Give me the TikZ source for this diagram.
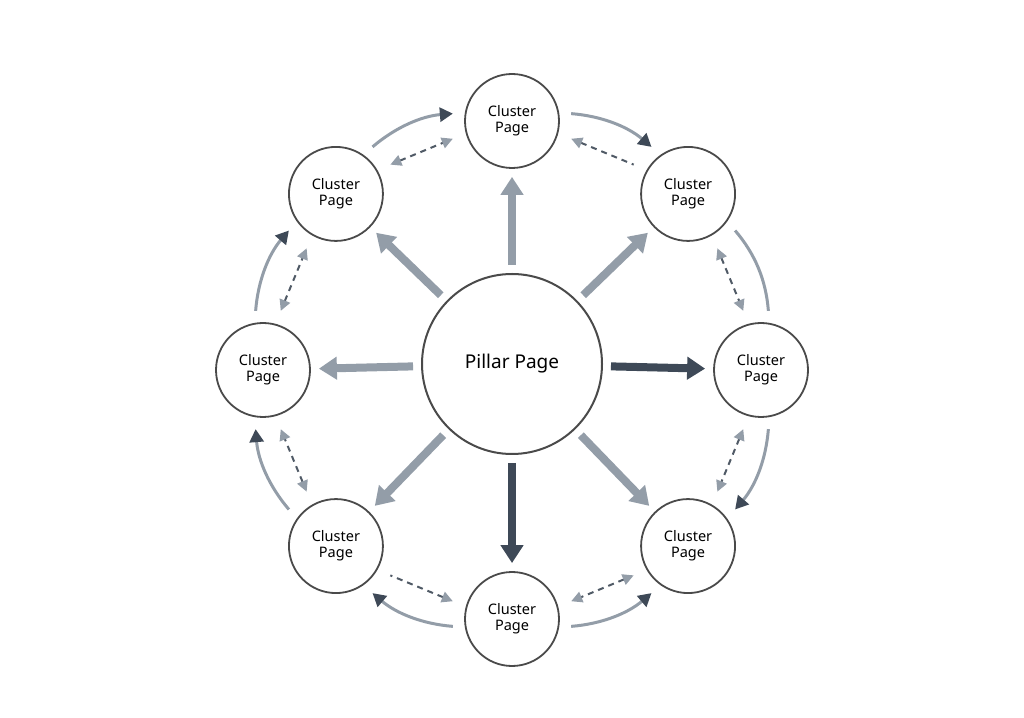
\documentclass[tikz,border=0pt]{standalone}
\usepackage{fontspec}
\setmainfont{Noto Sans}
\usetikzlibrary{arrows.meta,calc}
\definecolor{lg}{HTML}{939DA8}
\definecolor{dk}{HTML}{3E4957}
\definecolor{ring}{HTML}{4A4A4A}
\definecolor{dash}{HTML}{505A66}
\begin{document}
\begin{tikzpicture}[x=1pt,y=1pt,
  cl/.style={circle,draw=ring,line width=1.8pt,minimum size=94pt,inner sep=0pt,align=center,font=\fontsize{14.5}{16}\selectfont},
  pil/.style={circle,draw=ring,line width=2pt,minimum size=180pt,font=\fontsize{19}{22}\selectfont},
  spoke/.style={line width=8pt,draw=lg,-{Triangle[length=18pt,width=22pt]},shorten <=8pt,shorten >=8pt},
  dspoke/.style={spoke,draw=dk},
  arcs/.style={line width=3pt,draw=lg,shorten <=12pt,shorten >=12pt,bend left=18},
  arch/.style={arcs,-{Triangle[length=13pt,width=14pt,color=dk]}},
  archr/.style={arcs,{Triangle[length=13pt,width=14pt,color=dk]}-},
  dsh/.style={line width=2pt,draw=dash,dash pattern=on 6pt off 5pt,shorten <=14pt,shorten >=14pt},
  dboth/.style={dsh,{Triangle[length=11pt,width=11pt,color=lg]}-{Triangle[length=11pt,width=11pt,color=lg]}},
  dstart/.style={dsh,{Triangle[length=11pt,width=11pt,color=lg]}-}
]
\useasboundingbox (0,0) rectangle (1024,717);
\coordinate (C) at (512,347);
\node[pil] (P) at (512,353) {Pillar Page};
\node[cl] (n0) at ($(C)+(90:249)$) {Cluster\\Page};
\node[cl] (n1) at ($(C)+(45:249)$) {Cluster\\Page};
\node[cl] (n2) at ($(C)+(0:249)$) {Cluster\\Page};
\node[cl] (n3) at ($(C)+(-45:249)$) {Cluster\\Page};
\node[cl] (n4) at ($(C)+(-90:249)$) {Cluster\\Page};
\node[cl] (n5) at ($(C)+(-135:249)$) {Cluster\\Page};
\node[cl] (n6) at ($(C)+(180:249)$) {Cluster\\Page};
\node[cl] (n7) at ($(C)+(135:249)$) {Cluster\\Page};
% spokes
\draw[spoke] (P) -- (n0);
\draw[spoke] (P) -- (n1);
\draw[dspoke] (P) -- (n2);
\draw[spoke] (P) -- (n3);
\draw[dspoke] (P) -- (n4);
\draw[spoke] (P) -- (n5);
\draw[spoke] (P) -- (n6);
\draw[spoke] (P) -- (n7);
% outer solid arcs
\draw[arch] (n0.10) to (n1.125);
\draw[arcs] (n1.-35) to (n2.80);
\draw[arch] (n2.-80) to (n3.35);
\draw[archr] (n3.-125) to (n4.-10);
\draw[arch] (n4.-170) to (n5.-55);
\draw[arch] (n5.145) to (n6.-100);
\draw[arch] (n6.100) to (n7.-145);
\draw[arch] (n7.55) to (n0.170);
% dashed
\draw[dstart] (n0.-15) -- (n1.150);
\draw[dboth] (n1.-60) -- (n2.105);
\draw[dboth] (n2.-105) -- (n3.60);
\draw[dboth] (n3.-150) -- (n4.15);
\draw[dstart] (n4.165) -- (n5.-30);
\draw[dboth] (n5.120) -- (n6.-75);
\draw[dboth] (n6.75) -- (n7.-120);
\draw[dboth] (n7.30) -- (n0.195);
\end{tikzpicture}
\end{document}
